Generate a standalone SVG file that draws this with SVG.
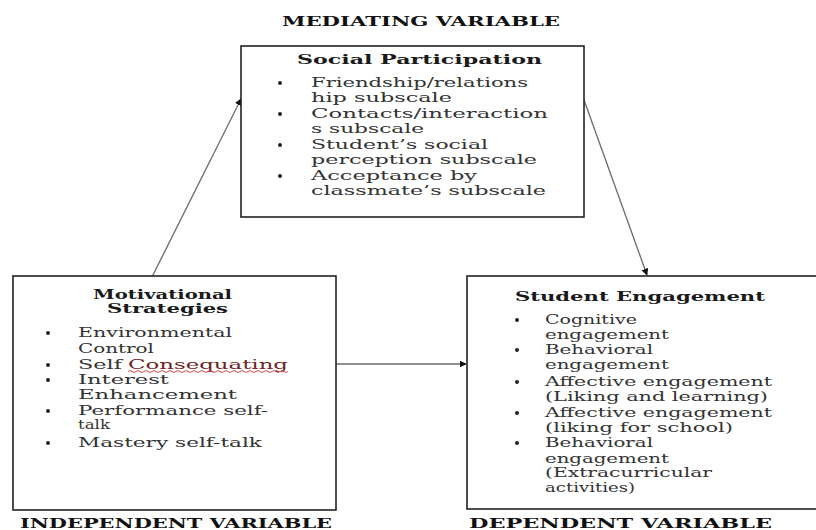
<svg xmlns="http://www.w3.org/2000/svg" width="816" height="530" viewBox="0 0 816 530">
<defs>
<style>
.box{fill:#fff;stroke:#222;stroke-width:1.6}
.t{font-family:"DejaVu Serif","Liberation Serif",serif;font-size:12.5px;fill:#333}
.h{font-family:"DejaVu Serif","Liberation Serif",serif;font-size:12.5px;font-weight:bold;fill:#1a1a1a}
.cap{font-family:"DejaVu Serif","Liberation Serif",serif;font-size:12.5px;font-weight:bold;fill:#111}
.b{fill:#222}
.c{stroke:#6a6a6a;stroke-width:1.3;fill:none;marker-end:url(#ah)}
</style>
<marker id="ah" viewBox="0 0 10 10" refX="9" refY="5" markerWidth="7" markerHeight="7" orient="auto" markerUnits="userSpaceOnUse">
<path d="M0,0 L10,5 L0,10 z" fill="#111"/>
</marker>
</defs>
<rect width="816" height="530" fill="#fff"/>

<g id="connectors">
<line class="c" x1="152" y1="277" x2="241" y2="99"/>
<line class="c" x1="584" y1="100" x2="647" y2="275"/>
<line class="c" x1="336" y1="364" x2="466" y2="364"/>
</g>

<g id="mediating">
<text class="cap" x="282" y="26" textLength="278" lengthAdjust="spacingAndGlyphs">MEDIATING VARIABLE</text>
<rect class="box" x="241" y="46" width="343" height="171"/>
<text class="h" x="297" y="64" textLength="245" lengthAdjust="spacingAndGlyphs">Social Participation</text>
<circle class="b" cx="280" cy="83" r="2"/>
<circle class="b" cx="280" cy="114" r="2"/>
<circle class="b" cx="280" cy="145" r="2"/>
<circle class="b" cx="280" cy="176" r="2"/>
<text class="t" x="311" y="87" textLength="217" lengthAdjust="spacingAndGlyphs">Friendship/relations</text>
<text class="t" x="311" y="102" textLength="141" lengthAdjust="spacingAndGlyphs">hip subscale</text>
<text class="t" x="311" y="118" textLength="237" lengthAdjust="spacingAndGlyphs">Contacts/interaction</text>
<text class="t" x="311" y="133" textLength="113" lengthAdjust="spacingAndGlyphs">s subscale</text>
<text class="t" x="311" y="149" textLength="177" lengthAdjust="spacingAndGlyphs">Student’s social</text>
<text class="t" x="311" y="164" textLength="226" lengthAdjust="spacingAndGlyphs">perception subscale</text>
<text class="t" x="311" y="180" textLength="166" lengthAdjust="spacingAndGlyphs">Acceptance by</text>
<text class="t" x="311" y="195" textLength="235" lengthAdjust="spacingAndGlyphs">classmate’s subscale</text>
</g>

<g id="independent">
<rect class="box" x="13" y="276" width="323" height="234"/>
<text class="h" x="93" y="299" textLength="139" lengthAdjust="spacingAndGlyphs">Motivational</text>
<text class="h" x="107" y="313" textLength="121" lengthAdjust="spacingAndGlyphs">Strategies</text>
<circle class="b" cx="48" cy="333" r="2"/>
<circle class="b" cx="48" cy="365" r="2"/>
<circle class="b" cx="48" cy="380" r="2"/>
<circle class="b" cx="48" cy="411" r="2"/>
<circle class="b" cx="48" cy="443" r="2"/>
<text class="t" x="78" y="337" textLength="154" lengthAdjust="spacingAndGlyphs">Environmental</text>
<text class="t" x="78" y="353" textLength="76" lengthAdjust="spacingAndGlyphs">Control</text>
<text class="t" x="78" y="369" textLength="44" lengthAdjust="spacingAndGlyphs">Self</text>
<text class="t" x="128" y="369" textLength="160" lengthAdjust="spacingAndGlyphs" style="fill:#6e2424">Consequating</text>
<path d="M128,371.5 q2,-2 4,0 t4,0 t4,0 t4,0 t4,0 t4,0 t4,0 t4,0 t4,0 t4,0 t4,0 t4,0 t4,0 t4,0 t4,0 t4,0 t4,0 t4,0 t4,0 t4,0 t4,0 t4,0 t4,0 t4,0 t4,0 t4,0 t4,0 t4,0 t4,0 t4,0 t4,0 t4,0 t4,0 t4,0 t4,0 t4,0 t4,0 t4,0 t4,0 t4,0" fill="none" stroke="#d94848" stroke-width="1"/>
<text class="t" x="78" y="384" textLength="91" lengthAdjust="spacingAndGlyphs">Interest</text>
<text class="t" x="78" y="399" textLength="159" lengthAdjust="spacingAndGlyphs">Enhancement</text>
<text class="t" x="78" y="415" textLength="190" lengthAdjust="spacingAndGlyphs">Performance  self-</text>
<text class="t" x="78" y="429" textLength="32" lengthAdjust="spacingAndGlyphs">talk</text>
<text class="t" x="78" y="447" textLength="184" lengthAdjust="spacingAndGlyphs">Mastery   self-talk</text>
<text class="cap" x="20" y="528" textLength="312" lengthAdjust="spacingAndGlyphs">INDEPENDENT  VARIABLE</text>
</g>

<g id="dependent">
<rect class="box" x="467" y="276" width="360" height="233"/>
<text class="h" x="515" y="301" textLength="250" lengthAdjust="spacingAndGlyphs">Student  Engagement</text>
<circle class="b" cx="517" cy="320" r="2"/>
<circle class="b" cx="517" cy="350" r="2"/>
<circle class="b" cx="517" cy="382" r="2"/>
<circle class="b" cx="517" cy="413" r="2"/>
<circle class="b" cx="517" cy="443" r="2"/>
<text class="t" x="545" y="324" textLength="92" lengthAdjust="spacingAndGlyphs">Cognitive</text>
<text class="t" x="545" y="339" textLength="124" lengthAdjust="spacingAndGlyphs">engagement</text>
<text class="t" x="545" y="354" textLength="108" lengthAdjust="spacingAndGlyphs">Behavioral</text>
<text class="t" x="545" y="369" textLength="124" lengthAdjust="spacingAndGlyphs">engagement</text>
<text class="t" x="545" y="386" textLength="227" lengthAdjust="spacingAndGlyphs">Affective  engagement</text>
<text class="t" x="545" y="401" textLength="223" lengthAdjust="spacingAndGlyphs">(Liking  and  learning)</text>
<text class="t" x="545" y="417" textLength="227" lengthAdjust="spacingAndGlyphs">Affective  engagement</text>
<text class="t" x="545" y="432" textLength="188" lengthAdjust="spacingAndGlyphs">(liking  for  school)</text>
<text class="t" x="545" y="447" textLength="108" lengthAdjust="spacingAndGlyphs">Behavioral</text>
<text class="t" x="545" y="463" textLength="124" lengthAdjust="spacingAndGlyphs">engagement</text>
<text class="t" x="545" y="477" textLength="167" lengthAdjust="spacingAndGlyphs">(Extracurricular</text>
<text class="t" x="545" y="492" textLength="90" lengthAdjust="spacingAndGlyphs">activities)</text>
<text class="cap" x="469" y="528" textLength="303" lengthAdjust="spacingAndGlyphs">DEPENDENT  VARIABLE</text>
</g>
</svg>
